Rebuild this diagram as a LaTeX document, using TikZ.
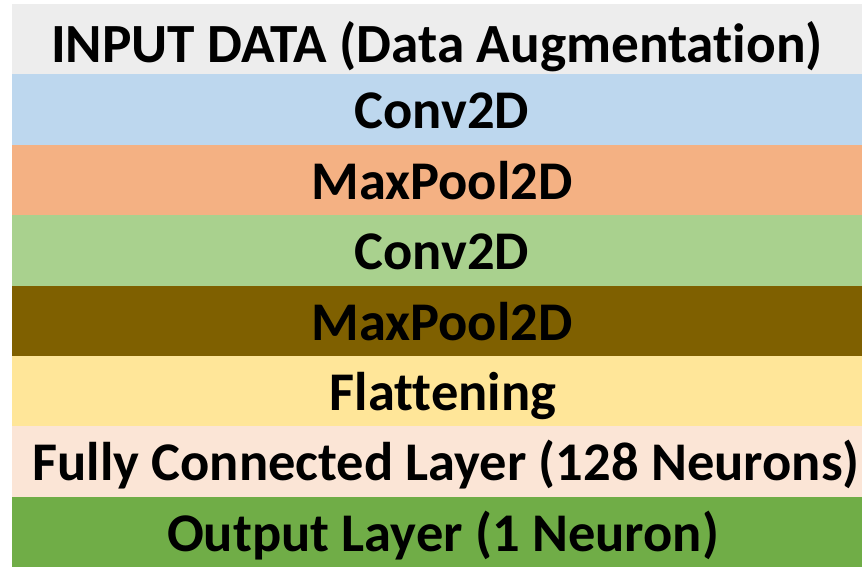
\documentclass[tikz,border=0pt]{standalone}
\usepackage{fontspec}
\setmainfont[Ligatures=NoCommon]{Carlito}
\definecolor{bandgray}{HTML}{EDEDED}
\definecolor{bandblue}{HTML}{BDD7EE}
\definecolor{bandorange}{HTML}{F4B183}
\definecolor{bandlgreen}{HTML}{A9D18E}
\definecolor{bandbrown}{HTML}{7F6000}
\definecolor{bandyellow}{HTML}{FFE699}
\definecolor{bandpink}{HTML}{FBE5D6}
\definecolor{banddgreen}{HTML}{70AD47}
\begin{document}
\begin{tikzpicture}[x=1pt,y=-1pt,
  layer/.style={anchor=base,inner sep=0pt,font=\fontsize{54.5}{60}\selectfont\bfseries},
  toplayer/.style={anchor=base,inner sep=0pt,font=\fontsize{55.3}{66}\selectfont\bfseries}]
\useasboundingbox (0,0) rectangle (862,567);
% stacked layer bands
\fill[bandgray]   (12,4)     rectangle (862,74.4);
\fill[bandblue]   (12,74.4)  rectangle (862,144.8);
\fill[bandorange] (12,144.8) rectangle (862,215.1);
\fill[bandlgreen] (12,215.1) rectangle (862,285.5);
\fill[bandbrown]  (12,285.5) rectangle (862,355.9);
\fill[bandyellow] (12,355.9) rectangle (862,426.3);
\fill[bandpink]   (12,426.3) rectangle (862,496.6);
\fill[banddgreen] (12,496.6) rectangle (862,567);
% layer labels
\node[toplayer] (input) at (437,63)    {INPUT DATA (Data Augmentation)};
\node[layer] (conv1)   at (442,129)   {Conv2D};
\node[layer] (pool1)   at (442,199.3) {MaxPool2D};
\node[layer] (conv2)   at (442,269.7) {Conv2D};
\node[layer] (pool2)   at (442,340.1) {MaxPool2D};
\node[layer] (flat)    at (443,410.5) {Flattening};
\node[layer] (dense)   at (446,480.9) {Fully Connected Layer (128 Neurons)};
\node[layer] (out)     at (443,551.2) {Output Layer (1 Neuron)};
\end{tikzpicture}
\end{document}
